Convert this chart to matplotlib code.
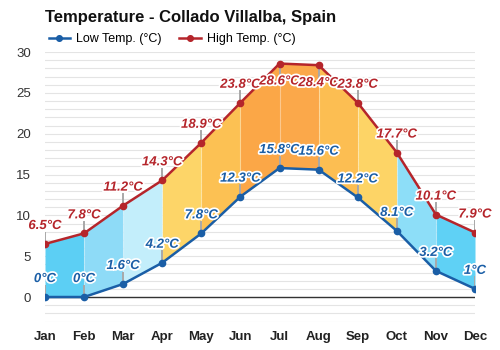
import matplotlib
matplotlib.use("Agg")
import matplotlib.pyplot as plt
import matplotlib.patheffects as pe

plt.rcParams['font.family'] = ['Liberation Sans', 'DejaVu Sans']

months = ['Jan', 'Feb', 'Mar', 'Apr', 'May', 'Jun', 'Jul', 'Aug', 'Sep', 'Oct', 'Nov', 'Dec']
low = [0, 0, 1.6, 4.2, 7.8, 12.3, 15.8, 15.6, 12.2, 8.1, 3.2, 1]
high = [6.5, 7.8, 11.2, 14.3, 18.9, 23.8, 28.6, 28.4, 23.8, 17.7, 10.1, 7.9]
seg_colors = ['#5ccff4', '#8edbf7', '#c3eefb', '#fdd568', '#fcc153', '#fba747',
              '#fba84a', '#fcbe52', '#fdd466', '#8ddef8', '#5fd1f5']

low_col = '#1a5ea6'
high_col = '#b5252b'

fig = plt.figure(figsize=(5, 3.5), dpi=100)
ax = fig.add_axes([0.09, 0.0814, 0.86, 0.7697])
x = list(range(len(months)))

# gridlines every degree
for v in range(-3, 31):
    ax.axhline(v, color='#e4e4e4', lw=0.8, zorder=0)
ax.axhline(0, color='#333333', lw=1.0, zorder=1)

# coloured bands between low and high
for i in range(len(months) - 1):
    ax.fill_between([i, i + 1], [low[i], low[i + 1]], [high[i], high[i + 1]],
                    color=seg_colors[i], lw=0, zorder=2)
for i in range(1, len(months) - 1):
    ax.plot([i, i], [low[i], high[i]], color='white', alpha=0.35, lw=0.8, zorder=2.5)

ax.plot(x, low, color=low_col, lw=1.8, marker='o', ms=4.5, zorder=4, label='Low Temp. (°C)')
ax.plot(x, high, color=high_col, lw=1.8, marker='o', ms=4.5, zorder=4, label='High Temp. (°C)')

stroke = [pe.withStroke(linewidth=2.5, foreground='white')]
for i in x:
    for vals, col in ((low, low_col), (high, high_col)):
        v = vals[i]
        # labels near the top go below the point
        d = -1 if v > 27 else 1
        ax.plot([i, i], [v, v + d * 1.4], color='#a8a8a8', lw=1.4, zorder=3)
        ax.text(i, v + d * 2.2, f"{v:g}°C", ha='center', va='center', color=col,
                fontsize=9.5, fontweight='bold', style='italic',
                path_effects=stroke, zorder=5)

ax.set_xlim(0, 11)
ax.set_ylim(-3, 30)
ax.set_yticks(range(0, 31, 5))
ax.set_xticks(x)
ax.set_xticklabels(months, fontweight='bold', fontsize=9.5, color='#222222')
ax.tick_params(axis='y', labelsize=9.5, colors='#333333', length=0, pad=10)
ax.tick_params(axis='x', length=0, pad=7)
for s in ax.spines.values():
    s.set_visible(False)

fig.text(0.09, 0.95, 'Temperature - Collado Villalba, Spain', fontsize=12,
         fontweight='bold', ha='left', va='center', color='#111111')
fig.legend(loc='center left', bbox_to_anchor=(0.075, 0.888), ncol=2, frameon=False,
           fontsize=9, handlelength=1.7, columnspacing=1.4, handletextpad=0.5,
           markerscale=0.9)

fig.savefig('out.png', dpi=100)
